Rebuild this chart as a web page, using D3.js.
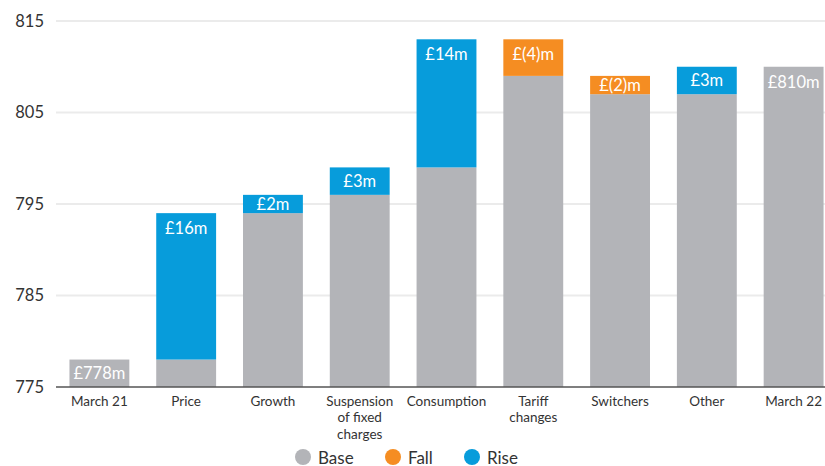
<!DOCTYPE html>
<html>
<head>
<meta charset="utf-8">
<script src="https://cdn.jsdelivr.net/npm/d3@7"></script>
<style>
  html, body { margin: 0; padding: 0; background: #fff; }
  svg { display: block; font-family: Lato, "Open Sans", sans-serif; }
</style>
</head>
<body>
<svg id="chart" width="825" height="466"></svg>
<script>
// Revenue bridge, March 21 to March 22 (£m)
const categories = ["March 21", "Price", "Growth", "Suspension\nof fixed\ncharges", "Consumption", "Tariff\nchanges", "Switchers", "Other", "March 22"];
const stepKinds  = ["total", "delta", "delta", "delta", "delta", "delta", "delta", "delta", "total"];
const stepValues = [778, 16, 2, 3, 14, -4, -2, 3, 810];
const barLabels  = ["£778m", "£16m", "£2m", "£3m", "£14m", "£(4)m", "£(2)m", "£3m", "£810m"];
const yTicks     = [775, 785, 795, 805, 815];
const legendKeys = ["Base", "Fall", "Rise"];

const colours = { Base: "#b3b4b8", Fall: "#f58d22", Rise: "#079cdb" };

const svg = d3.select("#chart");
const W = 825;

const y = d3.scaleLinear().domain([775, 815]).range([387, 21]);
const x = d3.scaleBand()
  .domain(categories)
  .range([56, 837])
  .paddingInner(0.31)
  .paddingOuter(0.155);

// Build the waterfall segments: grey base up to the lower end, coloured step above it
const segments = [];
let running = 0;
categories.forEach((c, i) => {
  if (stepKinds[i] === "total") {
    running = stepValues[i];
    segments.push({ cat: c, lo: 775, hi: running, key: "Base", label: barLabels[i] });
  } else {
    const start = running, end = running + stepValues[i];
    const lo = Math.min(start, end), hi = Math.max(start, end);
    segments.push({ cat: c, lo: 775, hi: lo, key: "Base", label: null });
    segments.push({ cat: c, lo: lo, hi: hi, key: stepValues[i] < 0 ? "Fall" : "Rise", label: barLabels[i] });
    running = end;
  }
});

// Grid lines
svg.append("g")
  .selectAll("line")
  .data(yTicks.filter(t => t !== 775))
  .join("line")
  .attr("x1", 56).attr("x2", W)
  .attr("y1", d => y(d)).attr("y2", d => y(d))
  .attr("stroke", "#ebebeb").attr("stroke-width", 2);

// Y tick labels
svg.append("g")
  .selectAll("text")
  .data(yTicks)
  .join("text")
  .attr("x", 44)
  .attr("y", d => y(d))
  .attr("dy", "0.36em")
  .attr("text-anchor", "end")
  .attr("fill", "#333")
  .attr("font-size", 16.5)
  .text(d => d);

// Bars
svg.append("g")
  .selectAll("rect")
  .data(segments)
  .join("rect")
  .attr("x", d => x(d.cat))
  .attr("width", x.bandwidth())
  .attr("y", d => y(d.hi))
  .attr("height", d => y(d.lo) - y(d.hi))
  .attr("fill", d => colours[d.key]);

// Value labels inside the segments
const capH = 11;
svg.append("g")
  .selectAll("text")
  .data(segments.filter(d => d.label))
  .join("text")
  .attr("x", d => x(d.cat) + x.bandwidth() / 2)
  .attr("y", d => {
    const top = y(d.hi), h = y(d.lo) - y(d.hi);
    return top + Math.min(10, (h - capH) / 2) + capH;
  })
  .attr("text-anchor", "middle")
  .attr("fill", "#fff")
  .attr("font-size", 16.5)
  .text(d => d.label);

// Baseline axis
svg.append("line")
  .attr("x1", 56).attr("x2", W)
  .attr("y1", y(775)).attr("y2", y(775))
  .attr("stroke", "#555").attr("stroke-width", 1.5);

// Category labels, one text element per line
const lineGap = 16.3;
const labelLines = categories.flatMap(c =>
  c.split("\n").map((t, i) => ({ t, i, cx: x(c) + x.bandwidth() / 2 })));
svg.append("g")
  .selectAll("text")
  .data(labelLines)
  .join("text")
  .attr("x", d => d.cx)
  .attr("y", d => 406 + d.i * lineGap)
  .attr("text-anchor", "middle")
  .attr("fill", "#333")
  .attr("font-size", 13.5)
  .text(d => d.t);

// Legend
const legendX = [303, 393, 472];
const lg = svg.append("g")
  .selectAll("g")
  .data(legendKeys)
  .join("g")
  .attr("transform", (d, i) => `translate(${legendX[i]},457)`);
lg.append("circle").attr("r", 8).attr("fill", d => colours[d]);
lg.append("text")
  .attr("x", 15)
  .attr("y", 6.5)
  .attr("fill", "#333")
  .attr("font-size", 17)
  .text(d => d);
</script>
</body>
</html>
